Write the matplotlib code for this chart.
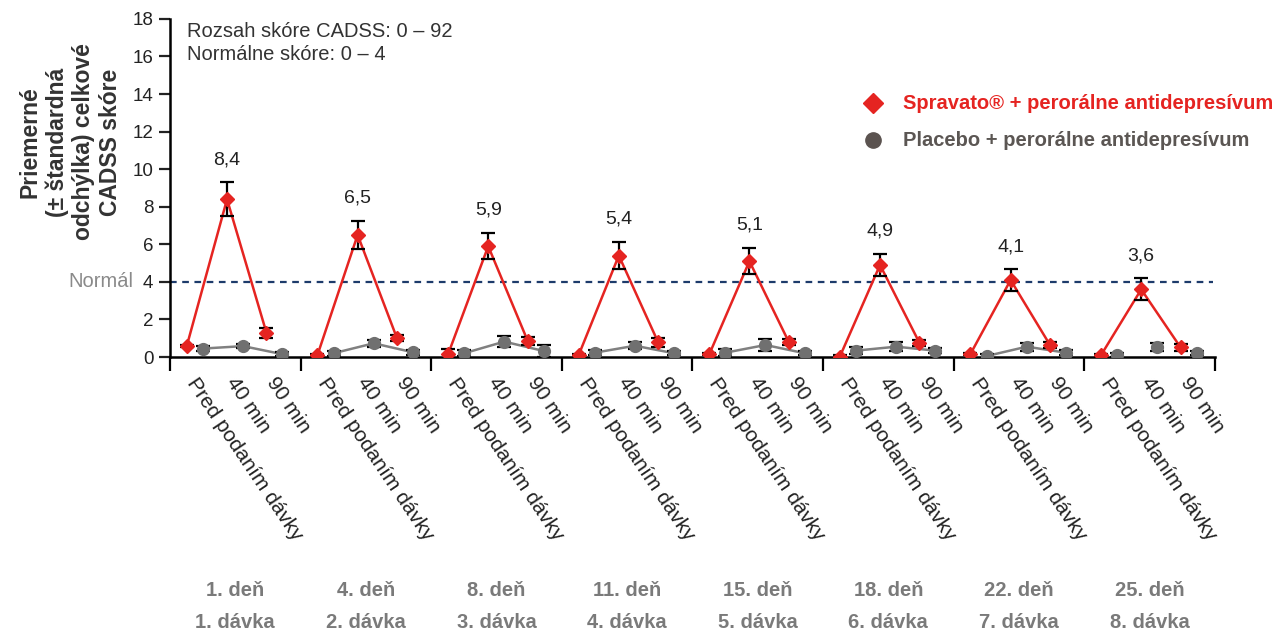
import matplotlib.pyplot as plt

plt.rcParams['font.family'] = ['Liberation Sans', 'DejaVu Sans']

days = ["1. deň", "4. deň", "8. deň", "11. deň", "15. deň", "18. deň", "22. deň", "25. deň"]
doses = ["1. dávka", "2. dávka", "3. dávka", "4. dávka", "5. dávka", "6. dávka", "7. dávka", "8. dávka"]
times = ["Pred podaním dávky", "40 min", "90 min"]

# mean / SE per group: [pre, 40 min, 90 min]
spravato = [[0.6, 8.4, 1.3], [0.1, 6.5, 1.0], [0.14, 5.9, 0.87], [0.1, 5.4, 0.78],
            [0.14, 5.1, 0.8], [0.02, 4.9, 0.76], [0.16, 4.1, 0.64], [0.1, 3.6, 0.51]]
spravato_se = [[0.05, 0.9, 0.27], [0.05, 0.74, 0.17], [0.3, 0.7, 0.22], [0.05, 0.72, 0.25],
               [0.05, 0.7, 0.15], [0.1, 0.6, 0.15], [0.05, 0.58, 0.15], [0.05, 0.59, 0.2]]

placebo = [[0.45, 0.58, 0.15], [0.2, 0.73, 0.25], [0.2, 0.82, 0.32], [0.23, 0.6, 0.2],
           [0.23, 0.64, 0.2], [0.34, 0.55, 0.34], [0.05, 0.55, 0.23], [0.1, 0.55, 0.23]]
placebo_se = [[0.12, 0.12, 0.12], [0.12, 0.2, 0.15], [0.15, 0.28, 0.3], [0.12, 0.18, 0.1],
              [0.2, 0.3, 0.1], [0.18, 0.25, 0.15], [0.1, 0.22, 0.12], [0.1, 0.22, 0.1]]

RED = "#e52421"
GRAY = "#707070"
W = 3.25
offs = [0.42, 1.42, 2.4]
goff = 0.4

fig = plt.figure(figsize=(12.76, 6.31), dpi=100)
ax = fig.add_axes([0.1332, 0.4342, 0.8188, 0.5358])

for g in range(len(days)):
    xr = [g * W + o for o in offs]
    xg = [x + goff for x in xr]
    ax.plot(xr, spravato[g], color=RED, lw=1.8, zorder=3)
    if g < 7:
        ax.plot(xg, placebo[g], color="#808080", lw=1.8, zorder=2)
    ax.errorbar(xr, spravato[g], yerr=spravato_se[g], fmt='none', ecolor='black',
                elinewidth=1.6, capsize=5, capthick=1.6, zorder=4)
    ax.errorbar(xg, placebo[g], yerr=placebo_se[g], fmt='none', ecolor='black',
                elinewidth=1.6, capsize=5, capthick=1.6, zorder=4)
    ax.plot(xg, placebo[g], 'o', color=GRAY, ms=8.5, zorder=5)
    ax.plot(xr, spravato[g], 'D', color=RED, ms=7.5, zorder=6)
    lbl = f"{spravato[g][1]:.1f}".replace(".", ",")
    ax.text(xr[1], spravato[g][1] + spravato_se[g][1] + 0.75, lbl,
            ha='center', va='bottom', fontsize=14, color='#222222')
    ax.text((g + 0.5) * W, -13.3, days[g] + "\n" + doses[g], ha='center', va='center',
            fontsize=14.5, fontweight='bold', color='#7a7a7a', linespacing=1.85)

ax.axhline(4, color='#1d3b6b', lw=1.6, ls=(0, (3, 2.5)), zorder=1, xmax=0.998)

ax.set_xlim(0, 8 * W)
ax.set_ylim(0, 18)
ax.set_yticks(range(0, 19, 2))
ax.tick_params(axis='y', labelsize=13.5, length=8, width=1.6, pad=4, colors='#222222')
ax.set_xticks([g * W for g in range(9)])
ax.set_xticklabels([])
ax.tick_params(axis='x', which='major', length=10, width=1.6, direction='out')
ax.set_xticks([g * W + o + 0.1 for g in range(8) for o in offs], minor=True)
ax.set_xticklabels(times * 8, minor=True, rotation=-56, ha='left', va='center',
                   rotation_mode='anchor', fontsize=15, color='#222222')
ax.tick_params(axis='x', which='minor', length=0, pad=16)

for s in ['top', 'right']:
    ax.spines[s].set_visible(False)
ax.spines['left'].set_linewidth(1.8)
ax.spines['bottom'].set_linewidth(1.8)

ax.text(-0.9, 4, "Normál", ha='right', va='center', fontsize=14.5, color='#8a8a8a')
ax.text(0.42, 17.85, "Rozsah skóre CADSS: 0 – 92\nNormálne skóre: 0 – 4", ha='left', va='top',
        fontsize=14.5, color='#333333', linespacing=1.3)

fig.text(0.055, 1 - 142 / 631, "Priemerné\n(± štandardná\nodchýlka) celkové\nCADSS skóre",
         rotation=90, ha='center', va='center', fontsize=16.5, fontweight='bold',
         color='#333333', linespacing=1.2)

ax.plot([17.5], [13.5], 'D', color=RED, ms=10, clip_on=False)
ax.text(18.25, 13.5, "Spravato® + perorálne antidepresívum", ha='left', va='center',
        fontsize=14.5, fontweight='bold', color=RED)
ax.plot([17.5], [11.55], 'o', color='#5b5350', ms=11, clip_on=False)
ax.text(18.25, 11.55, "Placebo + perorálne antidepresívum", ha='left', va='center',
        fontsize=14.5, fontweight='bold', color='#5b5653')

fig.savefig("out.png", dpi=100)
